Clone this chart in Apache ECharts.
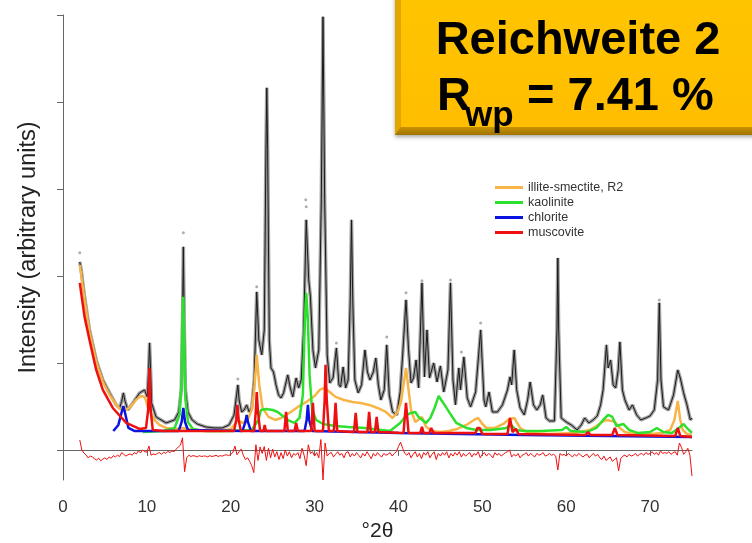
<!DOCTYPE html>
<html>
<head>
<meta charset="utf-8">
<script src="https://cdn.jsdelivr.net/npm/echarts@6/dist/echarts.min.js"></script>
<style>
  html, body { margin: 0; padding: 0; background: #ffffff; }
  #chart { width: 752px; height: 543px; }
</style>
</head>
<body>
<div id="chart"></div>
<script>
// Axis ticks (°2θ and intensity, arbitrary units)
const xTicks = [0, 10, 20, 30, 40, 50, 60, 70];
const yTicks = [0, 1000, 2000, 3000, 4000, 5000];

// Phase names in legend order
const phaseNames = ['illite-smectite, R2', 'kaolinite', 'chlorite', 'muscovite'];

// Measured pattern [2θ, intensity]
const observed = [
  [2.0,2162],[2.17,2070],[2.57,1760],[3.16,1380],[3.96,1035],[4.75,805],[5.55,656],[6.35,518],[6.75,483],
  [7.0,560],[7.2,656],[7.4,560],[7.74,460],[8.33,541],[9.13,656],[9.73,690],[10.05,610],[10.2,900],
  [10.32,1231],[10.45,900],[10.56,541],[11.1,380],[12.3,311],[13.3,345],[13.8,437],[14.1,690],[14.25,1495],
  [14.35,2335],[14.45,1495],[14.6,690],[14.9,437],[15.4,345],[16.0,299],[17.0,265],[18.0,253],[19.0,253],
  [19.8,288],[20.4,403],[20.7,633],[20.85,748],[21.0,575],[21.3,437],[21.6,460],[21.9,518],[22.2,437],
  [22.5,483],[22.8,805],[23.1,1817],[23.35,1265],[23.7,1093],[24.0,1380],[24.2,3450],[24.3,4163],[24.4,3450],
  [24.6,1265],[24.8,943],[25.1,897],[25.4,748],[25.7,633],[26.0,598],[26.3,656],[26.8,863],[27.1,713],
  [27.4,610],[27.8,828],[28.1,713],[28.4,805],[28.7,1380],[29.0,2645],[29.3,1955],[29.5,1760],[29.8,1150],
  [30.1,943],[30.5,1150],[30.8,2875],[31.0,4980],[31.2,2875],[31.5,1093],[31.8,771],[32.2,828],[32.6,1173],
  [32.9,748],[33.1,725],[33.4,955],[33.7,713],[34.0,805],[34.25,1725],[34.4,2645],[34.55,1725],[34.8,805],
  [35.2,656],[35.6,748],[36.0,1150],[36.3,897],[36.6,805],[37.0,897],[37.3,1058],[37.6,748],[37.9,575],
  [38.3,690],[38.6,1208],[38.9,633],[39.3,437],[39.8,403],[40.2,667],[40.5,1093],[40.9,1725],[41.2,1150],
  [41.5,771],[41.8,828],[42.1,1035],[42.4,713],[42.8,1921],[43.1,840],[43.4,1380],[43.7,828],[44.2,1000],
  [44.6,782],[45.0,966],[45.4,667],[45.9,920],[46.2,1921],[46.5,805],[46.8,518],[47.2,943],[47.4,690],
  [47.8,1070],[48.2,598],[48.6,495],[49.2,667],[49.8,1380],[50.2,575],[50.4,495],[50.8,667],[51.2,437],
  [51.8,437],[52.4,518],[53.0,690],[53.3,840],[53.5,748],[53.8,1150],[54.1,690],[54.5,483],[55.0,403],
  [55.4,575],[55.7,782],[56.1,518],[56.5,460],[56.9,518],[57.2,633],[57.6,368],[58.0,334],[58.6,334],
  [58.9,1380],[59.0,2208],[59.1,1380],[59.4,368],[60.0,322],[60.6,288],[61.3,230],[61.8,288],[62.2,368],
  [62.7,311],[63.2,345],[63.7,391],[64.1,518],[64.4,690],[64.8,1208],[65.0,943],[65.3,1035],[65.6,748],
  [65.9,713],[66.2,920],[66.4,1242],[66.7,690],[67.0,575],[67.5,460],[67.9,518],[68.4,403],[68.9,345],
  [69.5,368],[70.0,391],[70.5,460],[70.9,805],[71.1,1691],[71.3,805],[71.6,495],[72.2,460],[72.8,633],
  [73.3,920],[73.6,828],[74.0,656],[74.4,518],[74.8,345],[75.0,368]
];

// Isolated measured points standing above the fitted peak tops
const observedTops = [
  [2.0,2266],[14.35,2496],[20.85,817],[23.1,1875],[28.95,2875],[29.0,2795],[32.6,1231],[38.6,1300],
  [40.9,1806],[42.8,1944],[46.2,1955],[47.5,1127],[49.8,1461],[71.1,1725]
];

// Illite-smectite R2 contribution
const illiteSmectite = [
  [2.0,2128],[2.17,2013],[2.57,1725],[3.16,1357],[3.96,1012],[4.75,782],[5.55,633],[6.35,518],[6.75,472],
  [7.54,460],[8.13,506],[8.7,575],[9.13,610],[9.5,621],[9.8,598],[10.1,495],[10.9,345],[11.5,288],
  [12.3,253],[13.3,242],[14.3,253],[15.5,230],[17.0,219],[19.0,219],[20.0,242],[20.5,299],[20.9,345],
  [21.4,311],[22.0,345],[22.5,460],[22.8,690],[23.1,1093],[23.4,748],[23.8,483],[24.5,380],[25.3,345],
  [26.0,368],[27.0,426],[28.0,495],[29.0,552],[30.0,621],[30.6,690],[31.2,713],[31.8,667],[32.5,610],
  [33.5,575],[34.5,552],[35.5,541],[36.5,518],[37.5,483],[38.5,437],[39.3,368],[39.9,437],[40.3,552],
  [40.6,748],[40.9,943],[41.2,690],[41.5,460],[42.0,322],[42.8,380],[43.3,265],[44.0,219],[45.0,207],
  [46.0,219],[47.0,242],[48.1,288],[49.0,345],[49.5,368],[50.0,299],[50.5,253],[51.5,253],[52.5,299],
  [53.2,357],[53.8,368],[54.5,253],[55.5,196],[58.0,184],[61.0,196],[62.8,230],[63.6,276],[64.3,322],
  [64.8,345],[65.4,334],[65.8,322],[66.4,253],[67.0,207],[68.0,184],[70.0,184],[71.5,196],[72.4,230],
  [72.9,345],[73.3,564],[73.6,345],[73.9,230],[74.4,184],[75.0,173]
];

// Kaolinite contribution
const kaolinite = [
  [9.5,207],[12.0,219],[13.3,253],[13.9,403],[14.15,805],[14.3,1725],[14.35,1760],[14.45,1265],
  [14.6,575],[14.9,322],[15.5,242],[17.0,219],[20.0,219],[22.5,230],[23.3,345],[23.6,460],[24.2,472],
  [25.0,460],[25.6,437],[26.2,391],[27.0,334],[27.6,311],[28.2,368],[28.6,633],[28.8,1380],[29.0,1806],
  [29.2,1495],[29.4,863],[29.7,460],[30.2,345],[31.0,299],[32.5,276],[34.0,265],[36.0,253],[38.0,230],
  [39.0,219],[40.2,311],[41.0,403],[41.5,426],[42.0,437],[42.4,380],[43.3,311],[43.8,368],[44.3,483],
  [44.8,621],[45.1,575],[45.5,518],[46.1,426],[46.9,311],[48.1,253],[49.3,230],[51.0,230],[52.9,253],
  [53.3,299],[54.0,230],[55.0,219],[57.0,219],[59.5,230],[60.0,265],[60.5,219],[62.5,207],[63.6,253],
  [64.4,345],[65.0,403],[65.5,380],[66.0,276],[66.8,299],[67.5,230],[68.5,196],[70.0,207],[70.8,253],
  [71.6,207],[72.6,196],[73.6,265],[74.0,299],[74.5,242],[75.0,196]
];

// Chlorite contribution
const chlorite = [
  [6.0,219],[6.6,288],[7.0,437],[7.2,506],[7.4,426],[7.8,253],[8.5,219],[13.8,219],
  [14.15,322],[14.35,483],[14.55,322],[14.9,230],[21.4,219],[21.75,322],[21.9,403],[22.05,322],[22.4,219],
  [28.8,219],[29.05,345],[29.2,518],[29.35,345],[29.7,219],[40.0,196],[55.0,173],[75.0,150]
];

// Muscovite contribution
const muscovite = [
  [2.0,1921],[2.57,1530],[3.16,1265],[3.96,920],[4.75,690],[5.94,483],[7.54,311],[9.13,242],[9.9,253],
  [10.15,460],[10.3,943],[10.45,460],[10.7,230],[12.0,219],[20.4,219],[20.65,345],[20.8,518],[20.95,345],
  [21.2,219],[22.8,219],[23.0,460],[23.1,667],[23.25,437],[23.5,219],[23.9,219],[24.05,288],[24.2,219],
  [26.4,219],[26.6,437],[26.8,219],[27.6,219],[27.8,311],[28.0,219],[29.6,219],[29.8,541],[30.0,219],
  [31.0,219],[31.2,575],[31.3,978],[31.45,575],[31.7,219],[32.3,219],[32.5,541],[32.7,219],[34.7,207],
  [34.9,426],[35.1,207],[36.3,207],[36.5,437],[36.7,207],[37.2,207],[37.4,380],[37.6,207],[40.6,196],
  [40.9,541],[41.2,196],[42.6,196],[42.8,265],[43.0,196],[43.7,196],[43.9,253],[44.2,196],[49.2,196],
  [49.4,253],[49.7,253],[50.0,184],[53.0,184],[53.3,368],[53.6,207],[54.0,242],[54.3,184],[62.3,173],
  [62.6,207],[62.9,173],[65.5,173],[65.8,253],[66.1,173],[73.0,161],[73.3,253],[73.6,161],[75.0,150]
];

// Difference curve (observed − calculated), sampled every 0.25° from 2°
const diffStart = 2;
const diffStep = 0.25;
const difference = [
  115,0,-35,-58,  -92,-70,-80,-100,  -115,-95,-125,-105,  -90,-110,-80,-95,  -65,-80,-60,-75,
  -30,-50,-70,-55,  -45,-60,-30,-45,  -10,-35,0,-20,  -25,45,-60,-45,  -55,-40,-30,-50,
  -25,-40,-15,-30,  -10,-20,10,35,  55,140,-250,-90,  -60,-75,-65,-70,  -80,-65,-75,-70,
  -70,-80,-65,-75,  -70,-60,-75,-65,  -70,-60,-55,-65,  -50,-30,45,-55,  -20,10,-60,-110,
  -90,-130,-180,-260,  60,-120,35,-40,  40,-120,20,-90,  10,-80,-20,-110,  -30,-100,0,-70,
  -20,-90,-40,-60,  -30,-100,20,-60,  -180,60,-40,-20,  -70,-30,-90,120,  -345,80,-70,-40,
  -30,-80,-50,-20,  -60,-40,-90,-30,  -20,-80,-40,-70,  -30,-60,-90,-40,  -70,-20,-60,-100,
  -40,-70,-30,-60,  -80,-40,-60,-50,  -30,-70,-40,-20,  40,90,20,-40,  -60,-30,-90,-50,
  -20,-80,-40,-100,  -30,-60,-20,-90,  -50,-20,-110,-40,  -70,-30,-60,-20,  -90,-40,-70,-30,
  -60,-20,-80,-40,  -70,-50,-30,-80,  -40,-60,-20,-90,  -50,-30,-70,-40,  -60,-90,-30,-60,
  -40,-70,-50,-30,  -20,0,-80,-50,  -70,-40,-90,-60,  -50,-30,-70,-40,  -60,-80,-40,-60,
  -50,-30,-70,-60,  -40,-60,-50,-70,  -230,-40,-60,-50,  -70,-40,-60,-80,  -50,-70,-40,-60,
  -80,-60,-50,-90,  -60,-40,-70,-50,  -90,-110,-70,-120,  -100,-80,-130,-110,  -90,-240,-100,-70,
  -60,-80,-50,-70,  -60,-40,-70,-50,  -40,-60,-30,-50,  -40,-20,-50,-30,  -60,-10,-40,-30,
  -40,-20,-50,-30,  -20,-60,80,30,  -50,-20,20,-60,  -300
];
const differenceData = difference.map((v, i) => [diffStart + i * diffStep, v]);

const FONT = "'Liberation Sans', Arial, sans-serif";
const colors = {
  illite: '#F7B548',
  kaolinite: '#2EE02E',
  chlorite: '#0A14E0',
  muscovite: '#EE1010'
};

const chart = echarts.init(document.getElementById('chart'), null, { renderer: 'canvas' });

chart.setOption({
  animation: false,
  backgroundColor: '#ffffff',
  grid: { left: 63, right: 60, top: 15, bottom: 63, containLabel: false, outerBoundsMode: 'none' },
  xAxis: {
    type: 'value',
    min: 0,
    max: 75,
    name: '°2θ',
    nameLocation: 'middle',
    nameGap: 40,
    nameTextStyle: { fontFamily: FONT, fontSize: 21, color: '#222' },
    axisLine: { show: true, lineStyle: { color: '#666', width: 1 } },
    axisTick: { show: true, length: 6, lineStyle: { color: '#666' }, customValues: xTicks },
    axisLabel: { show: true, fontFamily: FONT, fontSize: 17, color: '#333', margin: 19, customValues: xTicks },
    splitLine: { show: false }
  },
  yAxis: {
    type: 'value',
    min: -345,
    max: 5000,
    name: 'Intensity (arbitrary units)',
    nameLocation: 'middle',
    nameGap: 22,
    nameTextStyle: { fontFamily: FONT, fontSize: 23.5, color: '#222' },
    axisLine: { show: true, lineStyle: { color: '#666', width: 1 } },
    axisTick: { show: true, length: 6, lineStyle: { color: '#666' }, customValues: yTicks },
    axisLabel: { show: false },
    splitLine: { show: false }
  },
  legend: {
    orient: 'vertical',
    left: 495,
    top: 181,
    padding: 0,
    itemWidth: 28,
    itemHeight: 3,
    itemGap: 2,
    icon: 'rect',
    selectedMode: false,
    textStyle: { fontFamily: FONT, fontSize: 12.5, color: '#333' },
    data: phaseNames
  },
  series: [
    {
      name: 'observed-dots', type: 'line', data: observed, symbol: 'none',
      lineStyle: { color: '#a0a0a0', width: 3.5 }, z: 2, silent: true
    },
    {
      name: 'observed', type: 'line', data: observed, symbol: 'none',
      lineStyle: { color: '#1a1a1a', width: 1 }, z: 3, silent: true
    },
    {
      name: 'observed-tops', type: 'scatter', data: observedTops, symbol: 'circle', symbolSize: 3,
      itemStyle: { color: '#9a9a9a' }, z: 3, silent: true
    },
    {
      name: phaseNames[0], type: 'line', data: illiteSmectite, symbol: 'none', color: colors.illite,
      lineStyle: { color: colors.illite, width: 2.5 }, z: 4
    },
    {
      name: phaseNames[1], type: 'line', data: kaolinite, symbol: 'none', color: colors.kaolinite,
      lineStyle: { color: colors.kaolinite, width: 2.5 }, z: 5
    },
    {
      name: phaseNames[2], type: 'line', data: chlorite, symbol: 'none', color: colors.chlorite,
      lineStyle: { color: colors.chlorite, width: 2.5 }, z: 6
    },
    {
      name: phaseNames[3], type: 'line', data: muscovite, symbol: 'none', color: colors.muscovite,
      lineStyle: { color: colors.muscovite, width: 2.5 }, z: 7
    },
    {
      name: 'difference', type: 'line', data: differenceData, symbol: 'none',
      lineStyle: { color: '#EE1010', width: 1 }, z: 7, silent: true
    }
  ],
  graphic: {
    elements: [
      // bevelled orange panel
      {
        type: 'rect', z: 100,
        shape: { x: 395, y: -10, width: 370, height: 145 },
        style: { fill: '#B88600', shadowBlur: 4, shadowColor: 'rgba(0,0,0,0.35)', shadowOffsetY: 2 }
      },
      {
        type: 'polygon', z: 101,
        shape: { points: [[395, -10], [401, -4], [401, 127], [395, 135]] },
        style: { fill: '#E2A600' }
      },
      {
        type: 'polygon', z: 101,
        shape: { points: [[395, 135], [401, 127], [765, 127], [765, 135]] },
        style: {
          fill: new echarts.graphic.LinearGradient(0, 0, 0, 1, [
            { offset: 0, color: '#C89300' },
            { offset: 1, color: '#9E7300' }
          ])
        }
      },
      {
        type: 'rect', z: 102,
        shape: { x: 401, y: -4, width: 364, height: 131 },
        style: {
          fill: new echarts.graphic.LinearGradient(0, 0, 0, 1, [
            { offset: 0, color: '#FFC400' },
            { offset: 1, color: '#FFBE00' }
          ])
        }
      },
      {
        type: 'text', z: 103, x: 578, y: 41,
        style: {
          text: 'Reichweite 2', fill: '#000', fontFamily: FONT, fontWeight: 'bold', fontSize: 47,
          align: 'center', verticalAlign: 'middle'
        }
      },
      {
        type: 'text', z: 103, x: 437, y: 97,
        style: {
          text: 'R', fill: '#000', fontFamily: FONT, fontWeight: 'bold', fontSize: 47,
          align: 'left', verticalAlign: 'middle'
        }
      },
      {
        type: 'text', z: 103, x: 465, y: 116,
        style: {
          text: 'wp', fill: '#000', fontFamily: FONT, fontWeight: 'bold', fontSize: 35,
          align: 'left', verticalAlign: 'middle'
        }
      },
      {
        type: 'text', z: 103, x: 527, y: 97,
        style: {
          text: '= 7.41 %', fill: '#000', fontFamily: FONT, fontWeight: 'bold', fontSize: 47,
          align: 'left', verticalAlign: 'middle'
        }
      }
    ]
  }
});
</script>
</body>
</html>
